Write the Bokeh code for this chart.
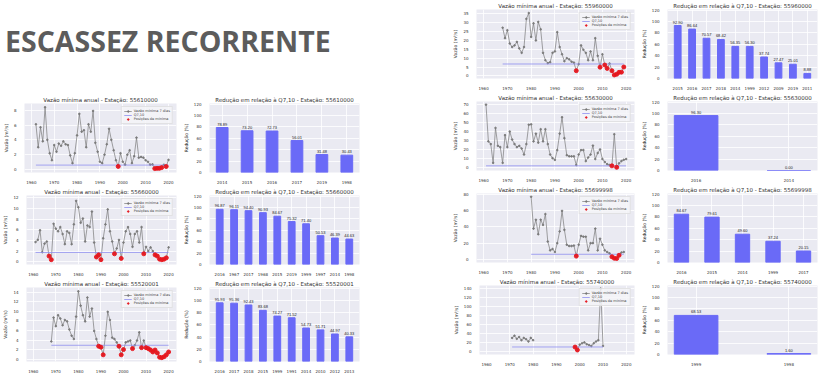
import math
from bokeh.plotting import figure
from bokeh.models import Range1d, FixedTicker, Legend, LegendItem, Div, Spacer, ColumnDataSource
from bokeh.layouts import row, column
from bokeh.embed import file_html
from bokeh.resources import INLINE

NaN = float("nan")

# ---------------- data ----------------
l1_station = "55610000"
l1_years = list(range(1962, 2021))
l1_flow = [6.1, 3.0, 5.7, 3.8, 8.4, 4.0, 2.2, 1.25, 3.3, 2.4,
           3.5, 3.2, 3.8, 3.4, 3.3, 1.9, 0.86, 2.2, 4.6, 7.5,
           5.1, 5.3, 3.0, 6.1, 5.1, 7.9, 3.6, 2.4, 1.05, 0.86,
           2.0, 3.4, 5.5, 4.0, 2.6, 1.25, 0.42, 2.2, 1.05, 0.66,
           2.0, 2.6, 0.86, 1.8, 4.3, 1.6, 1.7, 1.6, 1.25, 1.05,
           0.66, 0.7, 0.13, 0.16, 0.16, 0.26, 0.65, 0.41, 1.3]
l1_q710 = 0.6
l1_min_years = [1998, 2014, 2015, 2016, 2017, 2019]
l1_bar_years = ["2014", "2015", "2016", "2017", "2019", "1998"]
l1_bar_red = [78.89, 73.20, 72.73, 56.01, 31.48, 30.43]

l2_station = "55660000"
l2_years = list(range(1961, 2021))
l2_flow = [3.7, 4.1, 5.9, 1.8, 3.4, 3.8, 1.07, 0.4, 7.1, 6.2,
           5.7, 6.5, 5.2, 3.3, 5.7, 5.4, 3.3, 7.0, 11.4, 10.2,
           7.3, 8.1, 3.8, 6.8, 6.5, 9.4, 3.6, 0.9, 1.3, 0.4,
           4.4, 7.0, 9.8, 5.7, 3.8, 1.5, 2.5, 4.1, 0.64, 3.6,
           5.7, 6.5, 5.2, 2.8, 5.2, 5.7, 3.6, 6.5, 1.5, 2.8,
           2.0, 2.7, 2.0, 1.3, 1.07, 0.5, 0.4, 0.5, 0.75, 2.7]
l2_q710 = 1.75
l2_min_years = [1967, 1968, 1988, 1989, 1990, 1996, 1999, 2009, 2014, 2015, 2016, 2017, 2018, 2019]
l2_bar_years = ["2016", "1967", "2017", "1968", "2015", "2019", "1999", "1997", "2014", "1998"]
l2_bar_red = [96.87, 96.11, 94.40, 90.93, 84.67, 75.32, 71.40, 50.53, 46.39, 44.63]

l3_station = "55520001"
l3_years = list(range(1968, 2021))
l3_flow = [3.7, 8.7, 6.9, 9.2, 8.5, 7.1, 8.2, 7.9, 6.2, 4.9,
           4.2, 8.9, 14.2, 11.2, 9.2, 7.9, 12.9, 8.9, 10.6, 5.9,
           4.2, 2.7, 2.5, 0.9, 4.9, 9.9, 8.2, 4.5, 4.2, 3.5,
           2.7, 0.9, 2.0, 3.5, 3.7, 3.9, 2.2, 2.9, 3.9, 5.6,
           2.4, 3.9, 2.4, 2.2, 1.9, 1.5, 1.9, 1.3, 0.4, 0.3,
           0.5, 0.9, 1.5]
l3_q710 = 2.9
l3_min_years = [1989, 1990, 1991, 1998, 1999, 2000, 2004, 2008, 2010, 2011, 2012,
                2013, 2014, 2015, 2016, 2017, 2018, 2019, 2020]
l3_bar_years = ["2016", "2017", "2018", "2015", "1999", "1991", "2014", "2010", "2012", "2013"]
l3_bar_red = [95.93, 95.36, 92.43, 83.68, 74.27, 71.52, 54.73, 51.71, 44.97, 40.33]

r1_station = "55960000"
r1_years = list(range(1968, 2020))
r1_flow = [27.2, 21.3, 25.8, 18.3, 16.3, 17.2, 19.2, 15.5, 13.0, 16.3,
           32.2, 35.5, 22.0, 29.7, 20.0, 30.5, 26.3, 13.0, 8.8, 7.2,
           7.7, 13.0, 13.8, 24.7, 16.3, 12.2, 8.3, 10.0, 9.3, 8.0,
           7.5, 2.9, 6.6, 17.2, 14.7, 13.0, 8.8, 13.8, 8.8, 21.3,
           11.3, 4.9, 12.2, 6.1, 4.2, 7.0, 2.9, 0.5, 0.9, 2.0,
           2.1, 5.0]
r1_q710 = 6.7
r1_min_years = [1999, 2009, 2011, 2012, 2014, 2015, 2016, 2017, 2018, 2019]
r1_bar_years = ["2015", "2016", "2017", "2018", "2014", "1999", "2012", "2009", "2019", "2011"]
r1_bar_red = [92.90, 86.64, 70.57, 68.42, 56.35, 56.30, 37.74, 27.47, 25.01, 8.88]

r2_station = "55630000"
r2_years = list(range(1961, 2021))
r2_flow = [70, 29, 26, 5, 44, 24, 22.6, 5, 36, 22.6,
           40, 31, 26, 22.6, 24, 21, 14.3, 26, 47.6, 48,
           29, 37.6, 27.6, 42.6, 29, 42.6, 26, 14.3, 10.3, 8.3,
           19.3, 37.6, 56, 32.6, 13.6, 12.3, 12.3, 12.3, 2.6, 14.3,
           19.3, 19.3, 7, 11, 14.3, 24.3, 9.3, 16, 20, 9.3,
           6, 3.6, 2.6, 1.7, 37, 0.06, 4.5, 7, 8.5, 9.3]
r2_q710 = 1.7
r2_min_years = [2014, 2016]
r2_bar_years = ["2016", "2014"]
r2_bar_red = [96.30, 0.00]

r3_station = "55699998"
r3_years = list(range(1980, 2020))
r3_flow = [77.5, 38, 49, 31, 49, 42.5, 56, 22, 11, 12.7,
           9, 20, 34.5, 60, 36.4, 18, 16.4, 16.4, 17, 3.9,
           18, 29, 28, 28, 11, 20, 20, 38, 11, 25.5,
           18, 11, 9, 7.3, 3.1, 1.26, 0.95, 4.95, 8.4, 9]
r3_q710 = 6.2
r3_min_years = [1999, 2014, 2015, 2016, 2017]
r3_bar_years = ["2016", "2015", "2014", "1999", "2017"]
r3_bar_red = [84.67, 79.61, 49.60, 37.24, 20.15]

r4_station = "55740000"
r4_years = list(range(1971, 2011))
r4_flow = [30, 35, 28, 32, 25, 30, 27, 22, 30, 25,
           NaN, NaN, NaN, NaN, NaN, NaN, NaN, NaN, NaN, NaN,
           NaN, NaN, NaN, NaN, NaN, NaN, NaN, 9.6, 3.1, 15,
           18, 20, 16, 14, 12, 18, 22, 25, 140, 12]
r4_q710 = 9.8
r4_min_years = [1998, 1999]
r4_bar_years = ["1999", "1998"]
r4_bar_red = [68.53, 1.60]

DECADES = [1960, 1970, 1980, 1990, 2000, 2010, 2020]

# ---------------- style ----------------
FONT = "DejaVu Sans"
BG = "#EAEAF2"


def style(p):
    p.background_fill_color = BG
    p.border_fill_color = "white"
    p.outline_line_color = None
    p.grid.grid_line_color = "white"
    p.grid.grid_line_width = 0.8
    p.axis.axis_line_color = None
    p.axis.major_tick_line_color = None
    p.axis.minor_tick_line_color = None
    p.axis.major_label_text_font_size = "4px"
    p.axis.major_label_text_color = "#333333"
    p.axis.major_label_text_font = FONT
    p.axis.major_label_standoff = 2
    p.axis.axis_label_text_font_size = "4.5px"
    p.axis.axis_label_text_font_style = "normal"
    p.axis.axis_label_text_font = FONT
    p.axis.axis_label_text_color = "#262626"
    p.axis.axis_label_standoff = 2
    p.title.text_font_size = "5.5px"
    p.title.text_font_style = "normal"
    p.title.text_font = FONT
    p.title.text_color = "#333333"
    p.title.align = "center"
    p.title.standoff = 1
    p.min_border_top = 2
    p.min_border_bottom = 2
    p.min_border_left = 4
    p.min_border_right = 4


def line_panel(station, years, flow, q710, min_years, yrange, yticks, w, h):
    p = figure(width=w, height=h, output_backend="svg", toolbar_location=None,
               x_range=Range1d(1957, 2023.5), y_range=Range1d(*yrange),
               title="Vazão mínima anual - Estação: " + station)
    style(p)
    p.xaxis.ticker = FixedTicker(ticks=DECADES)
    p.yaxis.ticker = FixedTicker(ticks=yticks)
    p.yaxis.axis_label = "Vazão (m³/s)"
    src = ColumnDataSource(dict(x=years, y=flow))
    rl = p.line("x", "y", source=src, color="#7a7a7a", line_width=0.7)
    rs = p.scatter("x", "y", source=src, size=1.6, color="#7a7a7a")
    valid = [y for y, v in zip(years, flow) if not math.isnan(v)]
    rq = p.line([valid[0], valid[-1]], [q710, q710], color="#8f8ff0", line_width=0.8)
    mx = [y for y in years if y in min_years]
    my = [v for y, v in zip(years, flow) if y in min_years]
    rr = p.scatter(mx, my, size=4, color="#e8141c", alpha=0.9)
    leg = Legend(items=[LegendItem(label="Vazão mínima 7 dias", renderers=[rl, rs]),
                        LegendItem(label="Q7,10", renderers=[rq]),
                        LegendItem(label="Posições de mínima", renderers=[rr])],
                 location="top_right")
    leg.label_text_font_size = "3.5px"
    leg.label_text_font = FONT
    leg.label_height = 4
    leg.glyph_height = 4
    leg.glyph_width = 8
    leg.spacing = 0
    leg.padding = 2
    leg.margin = 3
    leg.label_standoff = 2
    leg.background_fill_color = "#f4f4f8"
    leg.background_fill_alpha = 0.85
    leg.border_line_color = "#d0d0d0"
    leg.border_line_width = 0.5
    p.add_layout(leg)
    return p


def bar_panel(station, cats, vals, w, h):
    n = len(cats)
    bw = 0.47
    span = (n - 1) + bw
    pad = 0.05 * span
    p = figure(width=w, height=h, output_backend="svg", toolbar_location=None,
               x_range=Range1d(-bw / 2 - pad, n - 1 + bw / 2 + pad), y_range=Range1d(0, 121),
               title="Redução em relação à Q7,10 - Estação: " + station)
    style(p)
    idx = list(range(n))
    p.xaxis.ticker = FixedTicker(ticks=idx)
    p.xaxis.major_label_overrides = {i: c for i, c in enumerate(cats)}
    p.yaxis.ticker = FixedTicker(ticks=[0, 20, 40, 60, 80, 100, 120])
    p.yaxis.axis_label = "Redução (%)"
    p.vbar(x=idx, top=vals, width=bw, color="#6a6af7", line_color="#6a6af7")
    labels = ["%.2f" % v for v in vals]
    p.text(x=idx, y=vals, text=labels, text_align="center", text_baseline="bottom",
           y_offset=-2, text_font_size="4px", text_color="#222222")
    return p


H = 92
l1 = line_panel(l1_station, l1_years, l1_flow, l1_q710, l1_min_years, (-0.4, 8.9), [0, 2, 4, 6, 8], 180, H)
b1 = bar_panel(l1_station, l1_bar_years, l1_bar_red, 183, H)
l2 = line_panel(l2_station, l2_years, l2_flow, l2_q710, l2_min_years, (-0.5, 12.4), [0, 2, 4, 6, 8, 10, 12], 180, H)
b2 = bar_panel(l2_station, l2_bar_years, l2_bar_red, 183, H)
l3 = line_panel(l3_station, l3_years, l3_flow, l3_q710, l3_min_years, (-0.5, 15.0), [0, 2, 4, 6, 8, 10, 12, 14], 180, 97)
b3 = bar_panel(l3_station, l3_bar_years, l3_bar_red, 183, 97)

r1 = line_panel(r1_station, r1_years, r1_flow, r1_q710, r1_min_years, (-1.5, 37.5), [0, 5, 10, 15, 20, 25, 30, 35], 188, H)
c1 = bar_panel(r1_station, r1_bar_years, r1_bar_red, 183, H)
r2 = line_panel(r2_station, r2_years, r2_flow, r2_q710, r2_min_years, (-3.5, 73.5), [0, 10, 20, 30, 40, 50, 60, 70], 188, H)
c2 = bar_panel(r2_station, r2_bar_years, r2_bar_red, 183, H)
r3 = line_panel(r3_station, r3_years, r3_flow, r3_q710, r3_min_years, (-4, 81.5), [0, 20, 40, 60, 80], 188, H)
c3 = bar_panel(r3_station, r3_bar_years, r3_bar_red, 183, H)
r4 = line_panel(r4_station, r4_years, r4_flow, r4_q710, r4_min_years, (-7, 147), [0, 20, 40, 60, 80, 100, 120, 140], 188, H)
c4 = bar_panel(r4_station, r4_bar_years, r4_bar_red, 183, H)

title = Div(text="ESCASSEZ RECORRENTE", width=363, height=84,
            styles={"font-family": "Open Sans", "font-weight": "bold", "font-size": "28.5px",
                    "color": "#5c5c5c", "padding-top": "16px", "white-space": "nowrap"})

left = column(title, row(l1, b1), row(l2, b2), row(l3, b3))
right = column(row(r1, c1), row(r2, c2), row(r3, c3), row(r4, c4))
page = row(left, Spacer(width=77), right)

open("out.html", "w").write(file_html(page, INLINE))
